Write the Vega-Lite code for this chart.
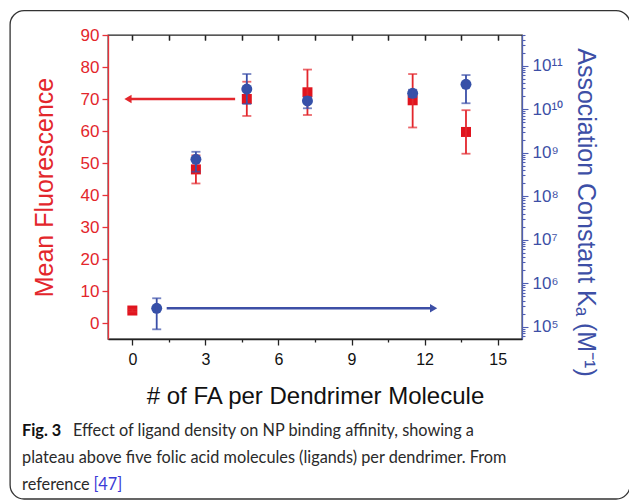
{
  "$schema": "https://vega.github.io/schema/vega-lite/v6.json",
  "width": 414,
  "height": 304,
  "autosize": {"type": "none"},
  "padding": {"left": 108, "top": 35, "right": 107, "bottom": 161},
  "background": "white",
  "config": {
    "view": {"stroke": "#222222", "strokeWidth": 1.3},
    "font": "Liberation Sans",
    "axis": {"labelFont": "Liberation Sans", "titleFont": "Liberation Sans", "grid": false, "labelOverlap": false, "labelFlush": false}
  },
  "datasets": {
    "fluor": [
      {"fa": 0, "mf": 3.9, "lo": 3.5, "hi": 4.3},
      {"fa": 2.61, "mf": 48.0, "lo": 43.6, "hi": 52.4},
      {"fa": 4.70, "mf": 70.0, "lo": 64.7, "hi": 75.4},
      {"fa": 7.19, "mf": 72.1, "lo": 65.0, "hi": 79.2},
      {"fa": 11.51, "mf": 69.6, "lo": 61.1, "hi": 77.8},
      {"fa": 13.70, "mf": 59.7, "lo": 52.9, "hi": 66.5}
    ],
    "ka": [
      {"fa": 1.0, "k": 2.65e5, "lo": 8.7e4, "hi": 4.5e5},
      {"fa": 2.61, "k": 7.05e8, "lo": 3.66e8, "hi": 1.05e9},
      {"fa": 4.70, "k": 2.91e10, "lo": 1.32e10, "hi": 6.44e10},
      {"fa": 7.19, "k": 1.55e10, "lo": 1.05e10, "hi": 1.9e10},
      {"fa": 11.51, "k": 2.32e10, "lo": 1.9e10, "hi": 2.8e10},
      {"fa": 13.70, "k": 3.73e10, "lo": 1.37e10, "hi": 6.1e10}
    ],
    "redArrow": [{"from": 4.22, "to": -0.18, "mf": 70}],
    "blueArrow": [{"from": 1.41, "to": 12.37, "k": 2.65e5}]
  },
  "layer": [
    {
      "layer": [
        {
          "data": {"name": "fluor"},
          "mark": {"type": "point", "shape": "square", "filled": true, "opacity": 1, "size": 100, "color": "#e0141e"},
          "encoding": {
            "x": {
              "field": "fa", "type": "quantitative", "title": "# of FA per Dendrimer Molecule",
              "scale": {"domain": [-1, 16], "nice": false, "zero": false},
              "axis": {
                "orient": "bottom",
                "values": [0, 1.5, 3, 4.5, 6, 7.5, 9, 10.5, 12, 13.5, 15],
                "labelExpr": "datum.value % 3 === 0 ? datum.label : ''",
                "tickSize": {"condition": {"test": "datum.value % 3 === 0", "value": 6}, "value": 3},
                "labelOverlap": false, "labelFlush": false,
                "domainColor": "#222222", "domainWidth": 1.3,
                "tickColor": "#222222", "tickWidth": 1.3,
                "labelColor": "#111111", "labelFontSize": 16, "labelPadding": 6,
                "titleColor": "#111111", "titleFontSize": 24, "titleFontWeight": "normal", "titlePadding": 17
              }
            },
            "y": {
              "field": "mf", "type": "quantitative", "title": "Mean Fluorescence",
              "scale": {"domain": [-5, 90], "nice": false, "zero": false},
              "axis": {
                "orient": "left",
                "values": [0, 20, 40, 60, 80],
                "tickSize": 6,
                "labelOverlap": false, "labelFlush": false,
                "domainColor": "#e8323a", "domainWidth": 1.3,
                "tickColor": "#e8323a", "tickWidth": 1.3,
                "labelColor": "#e3262c", "labelFontSize": 17, "labelPadding": 3,
                "titleColor": "#e3262c", "titleFontSize": 25, "titleFontWeight": "normal", "titlePadding": 23
              }
            }
          }
        },
        {
          "data": {"name": "fluor"},
          "mark": {"type": "rule", "color": "#e3262c", "strokeWidth": 1.8},
          "encoding": {
            "x": {"field": "fa", "type": "quantitative", "title": "# of FA per Dendrimer Molecule"},
            "y": {"field": "lo", "type": "quantitative", "title": "Mean Fluorescence"},
            "y2": {"field": "hi"}
          }
        },
        {
          "data": {"name": "fluor"},
          "mark": {"type": "tick", "orient": "horizontal", "color": "#e3262c", "size": 9, "thickness": 1.8},
          "encoding": {
            "x": {"field": "fa", "type": "quantitative", "title": "# of FA per Dendrimer Molecule"},
            "y": {"field": "lo", "type": "quantitative", "title": "Mean Fluorescence"}
          }
        },
        {
          "data": {"name": "fluor"},
          "mark": {"type": "tick", "orient": "horizontal", "color": "#e3262c", "size": 9, "thickness": 1.8},
          "encoding": {
            "x": {"field": "fa", "type": "quantitative", "title": "# of FA per Dendrimer Molecule"},
            "y": {"field": "hi", "type": "quantitative", "title": "Mean Fluorescence"}
          }
        },
        {
          "data": {"name": "redArrow"},
          "mark": {"type": "rule", "color": "#e3262c", "strokeWidth": 2.6},
          "encoding": {
            "x": {"field": "from", "type": "quantitative", "title": "# of FA per Dendrimer Molecule"},
            "x2": {"field": "to"},
            "y": {"field": "mf", "type": "quantitative", "title": "Mean Fluorescence"}
          }
        },
        {
          "data": {"name": "redArrow"},
          "mark": {"type": "point", "shape": "triangle-left", "filled": true, "opacity": 1, "size": 70, "color": "#e3262c"},
          "encoding": {
            "x": {"field": "to", "type": "quantitative", "title": "# of FA per Dendrimer Molecule"},
            "y": {"field": "mf", "type": "quantitative", "title": "Mean Fluorescence"}
          }
        }
      ]
    },
    {
      "layer": [
        {
          "data": {"name": "ka"},
          "mark": {"type": "point", "shape": "circle", "filled": true, "opacity": 1, "size": 120, "color": "#3550a8"},
          "encoding": {
            "x": {
              "field": "fa", "type": "quantitative", "title": null,
              "axis": {
                "orient": "top",
                "offset": -5,
                "values": [0, 1.5, 3, 4.5, 6, 7.5, 9, 10.5, 12, 13.5, 15],
                "labels": false,
                "domain": false,
                "tickSize": 5,
                "tickColor": "#222222", "tickWidth": 1.3
              }
            },
            "y": {
              "field": "k", "type": "quantitative", "title": "Association Constant Kₐ (M⁻¹)",
              "scale": {"type": "log", "domain": [52120, 5.08e11], "nice": false},
              "axis": {
                "orient": "right",
                "values": [6e4, 7e4, 8e4, 9e4,
                  1e5, 2e5, 3e5, 4e5, 5e5, 6e5, 7e5, 8e5, 9e5,
                  1e6, 2e6, 3e6, 4e6, 5e6, 6e6, 7e6, 8e6, 9e6,
                  1e7, 2e7, 3e7, 4e7, 5e7, 6e7, 7e7, 8e7, 9e7,
                  1e8, 2e8, 3e8, 4e8, 5e8, 6e8, 7e8, 8e8, 9e8,
                  1e9, 2e9, 3e9, 4e9, 5e9, 6e9, 7e9, 8e9, 9e9,
                  1e10, 2e10, 3e10, 4e10, 5e10, 6e10, 7e10, 8e10, 9e10,
                  1e11, 2e11, 3e11, 4e11, 5e11],
                "labelExpr": "abs(log(datum.value)/LN10 - round(log(datum.value)/LN10)) < 0.001 ? '10' + ['','','','','','⁵','⁶','⁷','⁸','⁹','¹⁰','¹¹'][round(log(datum.value)/LN10)] : ''",
                "tickSize": {"condition": {"test": "abs(log(datum.value)/LN10 - round(log(datum.value)/LN10)) < 0.001", "value": 6}, "value": 3},
                "labelOverlap": false, "labelFlush": false,
                "domainColor": "#4f5fb2", "domainWidth": 1.3,
                "tickColor": "#4f5fb2", "tickWidth": 1.1,
                "labelColor": "#3d4fa6", "labelFontSize": 17, "labelPadding": 4,
                "titleColor": "#3d4fa6", "titleFontSize": 25, "titleFontWeight": "normal", "titlePadding": 10,
                "titleAngle": 90, "titleY": 177
              }
            }
          }
        },
        {
          "data": {"name": "ka"},
          "mark": {"type": "rule", "color": "#3a4fa8", "strokeWidth": 1.8},
          "encoding": {
            "x": {"field": "fa", "type": "quantitative", "title": null},
            "y": {"field": "lo", "type": "quantitative", "title": "Association Constant Kₐ (M⁻¹)"},
            "y2": {"field": "hi"}
          }
        },
        {
          "data": {"name": "ka"},
          "mark": {"type": "tick", "orient": "horizontal", "color": "#3a4fa8", "size": 9, "thickness": 1.8},
          "encoding": {
            "x": {"field": "fa", "type": "quantitative", "title": null},
            "y": {"field": "lo", "type": "quantitative", "title": "Association Constant Kₐ (M⁻¹)"}
          }
        },
        {
          "data": {"name": "ka"},
          "mark": {"type": "tick", "orient": "horizontal", "color": "#3a4fa8", "size": 9, "thickness": 1.8},
          "encoding": {
            "x": {"field": "fa", "type": "quantitative", "title": null},
            "y": {"field": "hi", "type": "quantitative", "title": "Association Constant Kₐ (M⁻¹)"}
          }
        },
        {
          "data": {"name": "blueArrow"},
          "mark": {"type": "rule", "color": "#3d4fa6", "strokeWidth": 2.6},
          "encoding": {
            "x": {"field": "from", "type": "quantitative", "title": null},
            "x2": {"field": "to"},
            "y": {"field": "k", "type": "quantitative", "title": "Association Constant Kₐ (M⁻¹)"}
          }
        },
        {
          "data": {"name": "blueArrow"},
          "mark": {"type": "point", "shape": "triangle-right", "filled": true, "opacity": 1, "size": 70, "color": "#3d4fa6"},
          "encoding": {
            "x": {"field": "to", "type": "quantitative", "title": null},
            "y": {"field": "k", "type": "quantitative", "title": "Association Constant Kₐ (M⁻¹)"}
          }
        }
      ]
    },
    {
      "layer": [
        {
          "data": {"values": [{}]},
          "mark": {"type": "rect", "fillOpacity": 0, "stroke": "#333333", "strokeWidth": 1.3, "cornerRadius": 14, "clip": false},
          "encoding": {
            "x": {
              "datum": -5.02, "type": "quantitative", "title": null,
              "axis": {
                "orient": "top", "offset": -5,
                "values": [0, 1.5, 3, 4.5, 6, 7.5, 9, 10.5, 12, 13.5, 15],
                "labels": false, "domain": false, "tickSize": 5,
                "tickColor": "#222222", "tickWidth": 1.3
              }
            },
            "x2": {"datum": 20.44},
            "y": {
              "datum": 97.6, "type": "quantitative", "title": null,
              "scale": {"domain": [-5, 90], "nice": false, "zero": false},
              "axis": {
                "orient": "left",
                "values": [10, 30, 50, 70, 90],
                "labels": true, "domain": false, "tickSize": 6,
                "labelOverlap": false, "labelFlush": false,
                "tickColor": "#e8323a", "tickWidth": 1.3,
                "labelColor": "#e3262c", "labelFontSize": 17, "labelPadding": 3
              }
            },
            "y2": {"datum": -55}
          }
        },
        {
          "data": {"values": [{}]},
          "mark": {"type": "text", "align": "left", "baseline": "alphabetic", "font": "Lato", "fontWeight": "bold", "fontSize": 16.3, "color": "#111111"},
          "encoding": {
            "x": {"datum": -4.53, "type": "quantitative", "title": null},
            "y": {"datum": -35.3, "type": "quantitative", "title": null},
            "text": {"value": "Fig. 3"}
          }
        },
        {
          "data": {"values": [{}]},
          "mark": {"type": "text", "align": "left", "baseline": "alphabetic", "font": "Lato", "fontSize": 16.3, "color": "#2a2a2a"},
          "encoding": {
            "x": {"datum": -2.44, "type": "quantitative", "title": null},
            "y": {"datum": -35.3, "type": "quantitative", "title": null},
            "text": {"value": "Effect of ligand density on NP binding affinity, showing a"}
          }
        },
        {
          "data": {"values": [{}]},
          "mark": {"type": "text", "align": "left", "baseline": "alphabetic", "font": "Lato", "fontSize": 16.3, "color": "#2a2a2a"},
          "encoding": {
            "x": {"datum": -4.53, "type": "quantitative", "title": null},
            "y": {"datum": -43.75, "type": "quantitative", "title": null},
            "text": {"value": "plateau above five folic acid molecules (ligands) per dendrimer. From"}
          }
        },
        {
          "data": {"values": [{}]},
          "mark": {"type": "text", "align": "left", "baseline": "alphabetic", "font": "Lato", "fontSize": 16.3, "color": "#2a2a2a"},
          "encoding": {
            "x": {"datum": -4.53, "type": "quantitative", "title": null},
            "y": {"datum": -52.2, "type": "quantitative", "title": null},
            "text": {"value": "reference"}
          }
        },
        {
          "data": {"values": [{}]},
          "mark": {"type": "text", "align": "left", "baseline": "alphabetic", "font": "Lato", "fontSize": 16.3, "color": "#3b3bd6"},
          "encoding": {
            "x": {"datum": -1.60, "type": "quantitative", "title": null},
            "y": {"datum": -52.2, "type": "quantitative", "title": null},
            "text": {"value": "[47]"}
          }
        }
      ]
    }
  ],
  "resolve": {"scale": {"y": "independent"}, "axis": {"x": "independent"}}
}
